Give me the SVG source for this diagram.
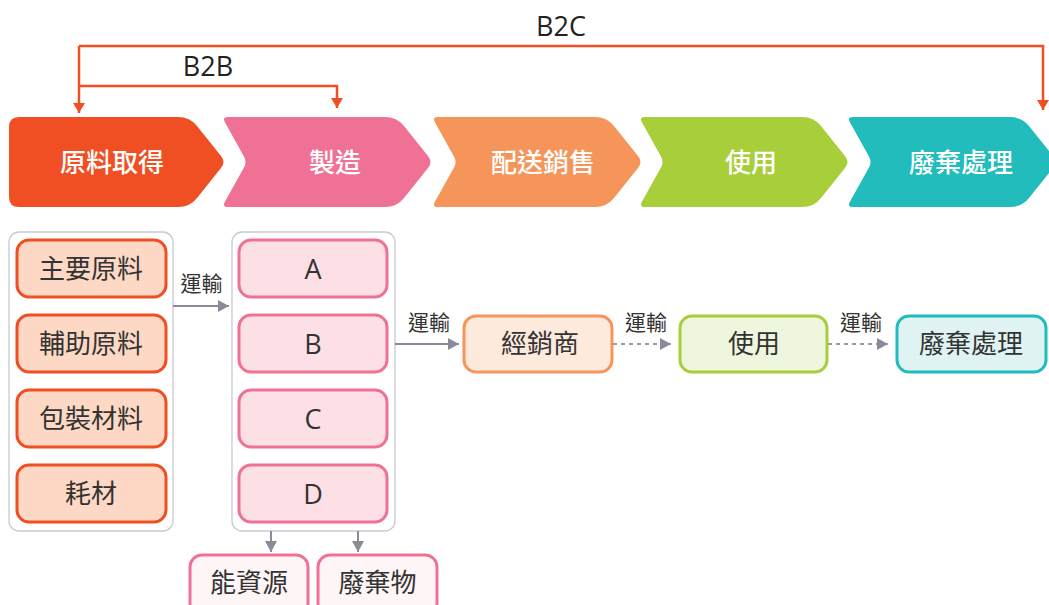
<svg xmlns="http://www.w3.org/2000/svg" width="1049" height="605" viewBox="0 0 1049 605">
<style>
.hd{font-family:"Noto Sans CJK TC",sans-serif;font-size:26px;font-weight:500;fill:#fff;text-anchor:middle;dominant-baseline:central;}
.bx{font-family:"Open Sans","Noto Sans CJK TC",sans-serif;font-size:26px;fill:#333;text-anchor:middle;dominant-baseline:central;}
.lt{font-size:27px;}
.lb{font-family:"Noto Sans CJK TC",sans-serif;font-size:21px;fill:#333;text-anchor:middle;dominant-baseline:central;}
.bb{font-family:"Open Sans","Noto Sans CJK TC",sans-serif;font-size:27px;fill:#222;text-anchor:middle;}
.cont{fill:#fff;stroke:#c9c9d2;stroke-width:1.3;}
.mat{fill:#fdd8c4;stroke:#f04e23;stroke-width:3;}
.mfg{fill:#fde0e5;stroke:#f07196;stroke-width:3;}
.out{fill:#fef5f6;stroke:#f07196;stroke-width:3;}
.ol{fill:none;stroke:#f04e23;stroke-width:2.5;}
.gl{fill:none;stroke:#8a8a99;stroke-width:2;}
.gd{fill:none;stroke:#9a9aa8;stroke-width:2;stroke-dasharray:4 4;}
</style>
<defs>
<marker id="ao" viewBox="0 0 10 12" refX="10" refY="6" markerWidth="10" markerHeight="12" markerUnits="userSpaceOnUse" orient="auto">
<path d="M0,0 L10,6 L0,12 Z" fill="#f04e23"/>
</marker>
<marker id="ag" viewBox="0 0 11 12" refX="11" refY="6" markerWidth="11" markerHeight="12" markerUnits="userSpaceOnUse" orient="auto">
<path d="M0,0 L11,6 L0,12 Z" fill="#8a8a99"/>
</marker>
<path id="chev" d="M6,117 L163,117 Q175,117 182,126 L206,156 Q211,162 206,168 L182,198 Q175,207 163,207 L6,207 Q0,207 2.9,201.8 L22.1,167.2 Q25,162 22.1,156.8 L2.9,122.2 Q0,117 6,117 Z"/>
</defs>
<rect width="1049" height="605" fill="#fff"/>

<g id="stage-raw">
<path d="M19,117 L178,117 Q190,117 197,126 L221,156 Q226,162 221,168 L197,198 Q190,207 178,207 L19,207 Q9,207 9,197 L9,127 Q9,117 19,117 Z" fill="#f04e23"/>
<text class="hd" x="112" y="160.5">原料取得</text>
</g>
<g id="stage-mfg">
<use href="#chev" x="222" fill="#f07196"/>
<text class="hd" x="335" y="160.5">製造</text>
</g>
<g id="stage-dist">
<use href="#chev" x="432" fill="#f6955a"/>
<text class="hd" x="543" y="160.5">配送銷售</text>
</g>
<g id="stage-use">
<use href="#chev" x="639" fill="#a8ce3a"/>
<text class="hd" x="751" y="160.5">使用</text>
</g>
<g id="stage-waste">
<use href="#chev" x="847" fill="#22bcbc"/>
<text class="hd" x="961" y="160.5">廢棄處理</text>
</g>

<g id="materials">
<rect class="cont" x="9" y="232" width="164" height="299" rx="10"/>
<g id="mat-main"><rect class="mat" x="17" y="240" width="149" height="57" rx="12"/><text class="bx" x="91" y="267.5">主要原料</text></g>
<g id="mat-aux"><rect class="mat" x="17" y="315" width="149" height="57" rx="12"/><text class="bx" x="91" y="342.5">輔助原料</text></g>
<g id="mat-pack"><rect class="mat" x="17" y="390" width="149" height="57" rx="12"/><text class="bx" x="91" y="417.5">包裝材料</text></g>
<g id="mat-cons"><rect class="mat" x="17" y="465" width="149" height="57" rx="12"/><text class="bx" x="91" y="492.5">耗材</text></g>
</g>

<g id="manufacturing">
<rect class="cont" x="232" y="232" width="163" height="299" rx="10"/>
<g id="mfg-a"><rect class="mfg" x="239" y="240" width="148" height="57" rx="12"/><text class="bx lt" x="313" y="268.5">A</text></g>
<g id="mfg-b"><rect class="mfg" x="239" y="315" width="148" height="57" rx="12"/><text class="bx lt" x="313" y="343.5">B</text></g>
<g id="mfg-c"><rect class="mfg" x="239" y="390" width="148" height="57" rx="12"/><text class="bx lt" x="313" y="418.5">C</text></g>
<g id="mfg-d"><rect class="mfg" x="239" y="465" width="148" height="57" rx="12"/><text class="bx lt" x="313" y="493.5">D</text></g>
</g>

<g id="energy"><rect class="out" x="190" y="555" width="118" height="60" rx="12"/><text class="bx" x="249" y="582">能資源</text></g>
<g id="waste"><rect class="out" x="318" y="555" width="119" height="60" rx="12"/><text class="bx" x="377.5" y="582">廢棄物</text></g>

<g id="dealer"><rect x="464" y="316" width="148" height="56" rx="12" fill="#feeadd" stroke="#f6955a" stroke-width="3"/><text class="bx" x="540" y="343">經銷商</text></g>
<g id="use"><rect x="680" y="316" width="147" height="56" rx="12" fill="#eef6de" stroke="#a8ce3a" stroke-width="3"/><text class="bx" x="754" y="343">使用</text></g>
<g id="disposal"><rect x="897" y="316" width="149" height="56" rx="12" fill="#e0f3f3" stroke="#22bcbc" stroke-width="3"/><text class="bx" x="971" y="343">廢棄處理</text></g>

<g id="connectors">
<path class="ol" d="M79,46 H1043 V110" marker-end="url(#ao)"/>
<path class="ol" d="M79,46 V113" marker-end="url(#ao)"/>
<path class="ol" d="M79,86 H337 V108" marker-end="url(#ao)"/>
<text class="bb" x="561" y="36">B2C</text>
<text class="bb" x="208" y="76">B2B</text>

<path class="gl" d="M173,306 H229" marker-end="url(#ag)"/>
<text class="lb" x="201.5" y="282">運輸</text>
<path class="gl" d="M395,344 H459" marker-end="url(#ag)"/>
<text class="lb" x="429" y="321">運輸</text>
<path class="gd" d="M613,344 H671" marker-end="url(#ag)"/>
<text class="lb" x="646" y="321">運輸</text>
<path class="gd" d="M828,344 H888" marker-end="url(#ag)"/>
<text class="lb" x="861" y="321">運輸</text>

<path class="gl" d="M271,531 V552" marker-end="url(#ag)"/>
<path class="gl" d="M358,531 V552" marker-end="url(#ag)"/>
</g>
</svg>
